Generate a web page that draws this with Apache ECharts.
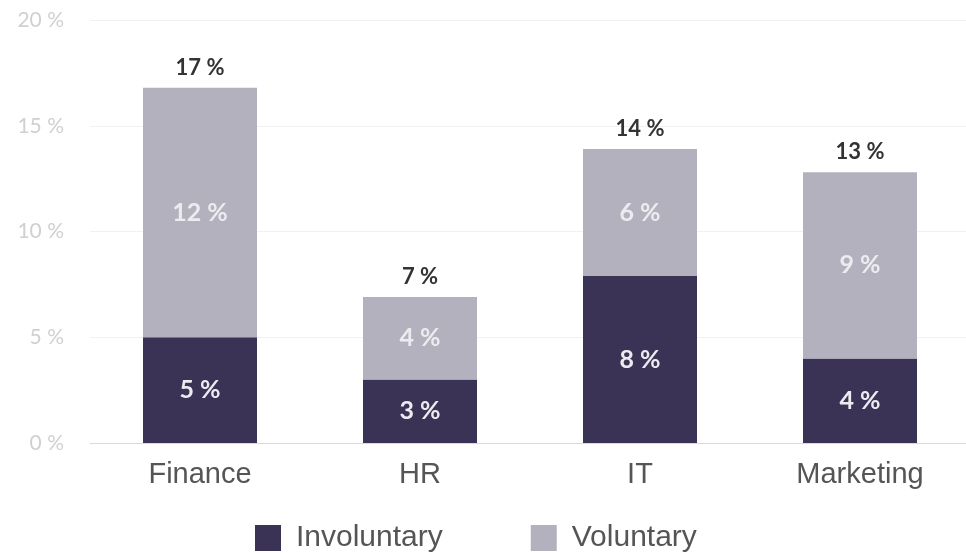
<!DOCTYPE html>
<html>
<head>
<meta charset="utf-8">
<script src="https://cdn.jsdelivr.net/npm/echarts@6/dist/echarts.min.js"></script>
<style>
  html, body { margin: 0; padding: 0; background: #fff; overflow: hidden; }
  /* a bit wider than the window: the plot runs past the right edge, as in the source */
  #main { width: 972px; height: 553px; }
</style>
</head>
<body>
<div id="main"></div>
<script>
const categories = ['Finance', 'HR', 'IT', 'Marketing'];
const involuntary = [5.0, 3.0, 7.9, 4.0];
const voluntary = [11.8, 3.9, 6.0, 8.8];

const chart = echarts.init(document.getElementById('main'));

// labels show whole percentages, like the source
const innerLabel = {
  show: true,
  position: 'inside',
  color: '#ecebf0',
  fontFamily: 'Lato',
  fontSize: 25,
  fontWeight: 'bold',
  formatter: p => Math.round(p.value) + ' %'
};

const option = {
  animation: false,
  grid: { left: 90, right: 2, top: 20, bottom: 110 },
  legend: {
    data: ['Involuntary', 'Voluntary'],
    left: 250,
    top: 518,
    icon: 'rect',
    itemWidth: 26,
    itemHeight: 26,
    itemGap: 88,
    textStyle: { color: '#555', fontSize: 30, fontFamily: 'Liberation Sans', padding: [0, 0, 0, 10] }
  },
  xAxis: {
    type: 'category',
    data: categories,
    axisLine: { lineStyle: { color: '#d3dbea' } },
    axisTick: { show: false },
    axisLabel: { color: '#555', fontSize: 29, fontFamily: 'Liberation Sans', margin: 17 }
  },
  yAxis: {
    type: 'value',
    min: 0,
    max: 20,
    interval: 5,
    axisLine: { show: false },
    axisTick: { show: false },
    splitLine: { lineStyle: { color: '#f1f1f3' } },
    axisLabel: { color: '#d0d0d0', fontSize: 21, fontFamily: 'Lato', margin: 26, formatter: '{value} %' }
  },
  series: [
    {
      name: 'Involuntary',
      type: 'bar',
      stack: 'total',
      barWidth: 114,
      data: involuntary,
      itemStyle: { color: '#3a3356' },
      label: innerLabel
    },
    {
      name: 'Voluntary',
      type: 'bar',
      stack: 'total',
      data: voluntary,
      itemStyle: { color: '#b3b1bd' },
      label: innerLabel
    },
    {
      name: 'Total',
      type: 'bar',
      stack: 'total',
      data: categories.map(() => 0),
      itemStyle: { color: 'transparent' },
      label: {
        show: true,
        position: 'top',
        distance: 9,
        color: '#333',
        fontFamily: 'Lato',
        fontSize: 22,
        fontWeight: 'bold',
        formatter: p => Math.round(involuntary[p.dataIndex] + voluntary[p.dataIndex]) + ' %'
      }
    }
  ]
};

chart.setOption(option);
</script>
</body>
</html>
